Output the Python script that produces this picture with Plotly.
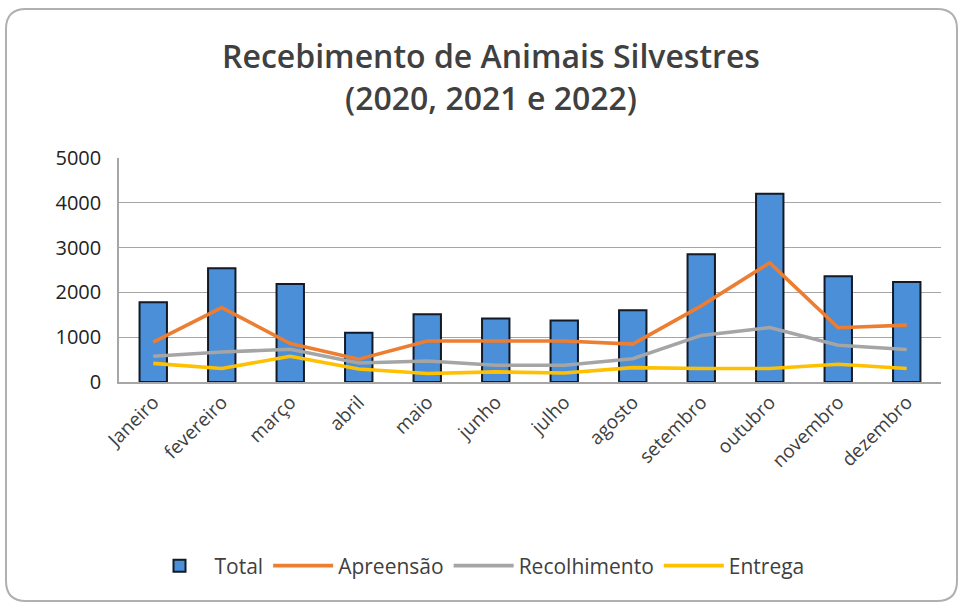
import plotly.graph_objects as go

# Monthly receipts of wild animals (2020–2022 combined)
months = ["Janeiro", "fevereiro", "março", "abril", "maio", "junho",
          "julho", "agosto", "setembro", "outubro", "novembro", "dezembro"]
total = [1780, 2540, 2190, 1100, 1510, 1420, 1370, 1600, 2850, 4200, 2360, 2230]
apreensao = [890, 1660, 860, 510, 915, 910, 915, 845, 1700, 2660, 1210, 1270]
recolhimento = [575, 670, 730, 425, 470, 375, 375, 520, 1040, 1215, 820, 725]
entrega = [415, 300, 575, 290, 190, 225, 200, 320, 300, 300, 395, 300]
y_ticks = [0, 1000, 2000, 3000, 4000, 5000]

W, H = 962, 603
ML, MR, MT, MB = 119, 21, 158, 221
TEXT = "#404040"
FONT = "Open Sans"

fig = go.Figure()
fig.add_trace(go.Bar(
    x=months, y=total, name="Total",
    marker=dict(color="#4a8fd8", line=dict(color="#111a26", width=2)),
))
for name, vals, col in [("Apreensão", apreensao, "#ed7d31"),
                        ("Recolhimento", recolhimento, "#a5a5a5"),
                        ("Entrega", entrega, "#ffc000")]:
    fig.add_trace(go.Scatter(x=months, y=vals, name=name, mode="lines",
                             line=dict(color=col, width=3.6)))

# rounded chart-area border, expressed in paper units around the plot area
pw, ph = W - ML - MR, H - MT - MB
def px(x):
    return (x - ML) / pw
def py(y):
    return (H - MB - y) / ph
x0, x1, y0, y1, r = 6, 957, 9, 601, 20
rx, ry = r / pw, r / ph
path = (f"M {px(x0)+rx},{py(y0)} L {px(x1)-rx},{py(y0)} "
        f"Q {px(x1)},{py(y0)} {px(x1)},{py(y0)-ry} "
        f"L {px(x1)},{py(y1)+ry} Q {px(x1)},{py(y1)} {px(x1)-rx},{py(y1)} "
        f"L {px(x0)+rx},{py(y1)} Q {px(x0)},{py(y1)} {px(x0)},{py(y1)+ry} "
        f"L {px(x0)},{py(y0)-ry} Q {px(x0)},{py(y0)} {px(x0)+rx},{py(y0)} Z")

fig.update_layout(
    width=W, height=H,
    margin=dict(l=ML, r=MR, t=MT, b=MB, autoexpand=False),
    paper_bgcolor="white", plot_bgcolor="white",
    font=dict(family=FONT, color=TEXT),
    bargap=0.6,
    title=dict(
        text="Recebimento de Animais Silvestres<br>(2020, 2021 e 2022)",
        x=0.5 + 10 / W, xref="container", xanchor="center",
        y=1 - 68 / H, yref="container", yanchor="middle",
        font=dict(family=FONT, size=32, color=TEXT, weight=600),
    ),
    xaxis=dict(
        tickangle=-45, tickfont=dict(size=19, color=TEXT),
        showline=True, linecolor="#a6a6a6", linewidth=1.5,
        showgrid=False, ticks="",
    ),
    yaxis=dict(
        range=[0, 5000], tickvals=y_ticks, tickfont=dict(size=20, color="#222"),
        showline=True, linecolor="#a6a6a6", linewidth=1.5,
        showgrid=True, gridcolor="#a6a6a6", gridwidth=1.2,
        zeroline=False, ticks="", ticklabelstandoff=12,
    ),
    legend=dict(
        orientation="h", x=477 / W, xanchor="center", xref="container",
        y=1 - 566 / H, yanchor="middle", yref="container",
        font=dict(size=21, color=TEXT),
        itemwidth=60,
    ),
    shapes=[dict(type="path", path=path, xref="paper", yref="paper",
                 line=dict(color="#b0b0b0", width=2), layer="below")],
)

fig.write_html("out.html")
